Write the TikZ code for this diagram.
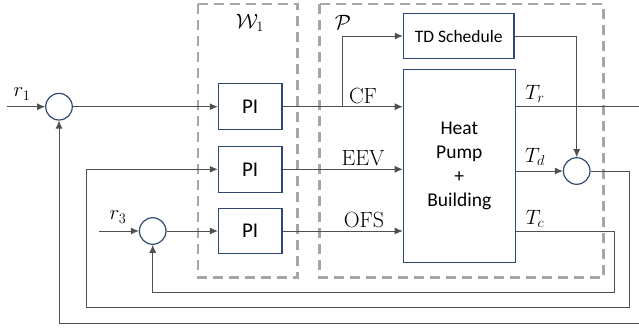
\documentclass[tikz,border=0pt]{standalone}
\usepackage{fontspec}
\newfontfamily\sansc{Carlito}
\usetikzlibrary{arrows.meta,calc}
\definecolor{navy}{HTML}{2F4A70}
\definecolor{ln}{HTML}{505050}
\definecolor{dsh}{HTML}{A6A6A6}
\begin{document}
\begin{tikzpicture}[x=1pt,y=-1pt,
  blk/.style={draw=navy,line width=1.2pt,fill=white,inner sep=0pt,font=\sansc\fontsize{19.5}{24}\selectfont,align=center},
  pib/.style={blk,minimum width=63.7pt,minimum height=45.7pt,font=\sansc\fontsize{21}{24}\selectfont},
  sumc/.style={draw=navy,line width=1.2pt,circle,minimum size=26.6pt,inner sep=0pt},
  wire/.style={draw=ln,line width=0.8pt},
  arr/.style={wire,-{Latex[length=8pt,width=7pt]}},
  dbox/.style={draw=dsh,line width=2.4pt,dash pattern=on 10pt off 6pt},
  lab/.style={font=\fontsize{22}{26}\selectfont,inner sep=0pt}]
\useasboundingbox (0,0) rectangle (639,329);
% dashed groups
\draw[dbox] (198,4) rectangle (297.3,277.5);
\draw[dbox] (319.3,4) rectangle (603.3,277.3);
\node[lab] (w1) at (250,23) {$\mathcal{W}_1$};
\node[lab] (pl) at (343,22) {$\mathcal{P}$};
% blocks
\node[sumc] (c1) at (59,106.7) {};
\node[sumc] (c3) at (152.7,231) {};
\node[sumc] (c2) at (576.7,171) {};
\node[pib] (pi1) at (250.2,106.7) {PI};
\node[pib] (pi2) at (250.2,169.3) {PI};
\node[pib] (pi3) at (250.2,231) {PI};
\node[blk,minimum width=110.7pt,minimum height=45.4pt,font=\sansc\fontsize{17.5}{21}\selectfont] (td) at (458.7,36) {TD Schedule};
\node[blk,minimum width=112pt,minimum height=193.4pt] (hp) at (459.3,166) {Heat\\Pump\\+\\Building};
% free ends
\coordinate (r1s) at (7,106.7);
\coordinate (r3s) at (99,231);
\coordinate (trout) at (639,106.7);
\coordinate (fbin) at (639,323.3);
\coordinate (br) at (342.7,106.7);
% forward paths
\draw[arr] (r1s) -- (c1.west);
\draw[arr] (r3s) -- (c3.west);
\draw[arr] (c1.east) -- (pi1.west);
\draw[arr] (c3.east) -- (pi3.west);
\draw[arr] (pi1.east) -- (pi1.east -| hp.west);
\draw[arr] (pi2.east) -- (pi2.east -| hp.west);
\draw[arr] (pi3.east) -- (pi3.east -| hp.west);
\draw[arr] (br) -- (br |- td.west) -- (td.west);
\draw[arr] (td.east) -- (td.east -| c2.north) -- (c2.north);
\draw[wire] (hp.east |- trout) -- (trout);
\draw[arr] (hp.east |- c2.west) -- (c2.west);
% feedbacks
\draw[arr] (c2.east) -- (629.3,171) -- (629.3,307.7) -- (86,307.7) -- (86,169.3) -- (pi2.west);
\draw[arr] (hp.east |- 0,231.7) -- (614,231.7) -- (614,292.3) -- (152.7,292.3) -- (c3.south);
\draw[arr] (fbin) -- (59,323.3) -- (c1.south);
% labels
\node[lab] (lr1) at (22,94) {$r_1$};
\node[lab] (lr3) at (118,217) {$r_3$};
\node[lab] (lcf) at (363,96) {CF};
\node[lab] (leev) at (363,158) {EEV};
\node[lab] (lofs) at (364,220) {OFS};
\node[lab] (ltr) at (535,94) {$T_r$};
\node[lab] (ltd) at (535,157) {$T_d$};
\node[lab] (ltc) at (535,219) {$T_c$};
\end{tikzpicture}
\end{document}
